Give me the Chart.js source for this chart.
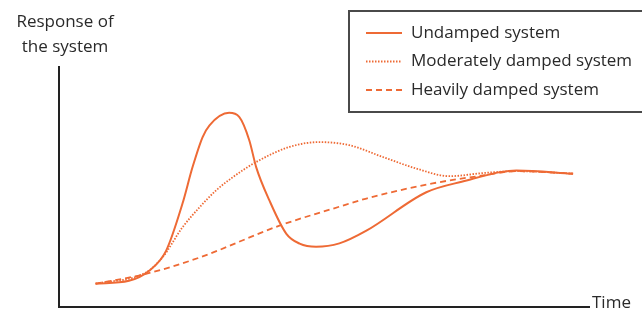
<!DOCTYPE html>
<html>
<head>
<meta charset="utf-8">
<script src="https://cdn.jsdelivr.net/npm/chart.js@4/dist/chart.umd.min.js"></script>
<style>
  html, body { margin: 0; padding: 0; background: #fff; }
  #wrap { width: 642px; height: 312px; position: relative; }
</style>
</head>
<body>
<div id="wrap"><canvas id="chart"></canvas></div>
<script>
// curves: time (0-100) vs response (0-100)
const undampedTime = [6.9, 13.2, 17.0, 20.2, 23.3, 25.2, 27.1, 28.4, 32.1, 34.0, 35.9, 37.2, 39.7, 42.9, 45.4, 48.5, 52.9, 58.0, 69.3, 76.9, 83.2, 86.3, 97.0];
const undampedResp = [9.7, 10.9, 15.1, 23.4, 43.1, 58.3, 70.8, 75.7, 80.9, 79.2, 69.5, 58.3, 44.4, 30.5, 26.4, 25.1, 26.5, 31.8, 47.8, 52.7, 56.2, 56.9, 55.5];

const moderateTime = [6.9, 16.4, 19.5, 23.3, 26.5, 29.6, 32.8, 37.2, 43.5, 49.1, 54.8, 61.1, 67.4, 73.7, 80.0, 86.3, 97.0];
const moderateResp = [9.7, 14.4, 20.6, 33.2, 41.5, 48.5, 54.1, 60.4, 66.7, 68.7, 67.4, 62.5, 57.7, 54.5, 55.8, 56.6, 55.6];

const heavyTime = [6.9, 16.4, 26.5, 41.6, 52.9, 58.0, 70.5, 80.0, 86.3, 97.0];
const heavyResp = [9.7, 13.8, 20.6, 33.9, 41.8, 45.2, 51.5, 54.8, 56.6, 55.6];

const seriesLabels = ['Undamped system', 'Moderately damped system', 'Heavily damped system'];
const yAxisLabel = ['Response of', 'the system'];
const xAxisLabel = 'Time';

const ORANGE = '#ee6a35';
const FONT = '"Open Sans", sans-serif';
const dashes = [[], [1.5, 1.5], [6, 4]];

const pts = (xs, ys) => xs.map((x, i) => ({ x, y: ys[i] }));

const mkSet = (label, data, i) => ({
  label,
  data,
  borderColor: ORANGE,
  borderWidth: i === 0 ? 2 : 1.8,
  borderDash: dashes[i],
  pointRadius: 0,
  fill: false,
  cubicInterpolationMode: 'monotone'
});

// axis labels + legend box drawn by hand
const decor = {
  id: 'decor',
  afterDraw(chart) {
    const { ctx, chartArea } = chart;
    ctx.save();
    ctx.fillStyle = '#2a2a2a';
    ctx.font = '17px ' + FONT;
    ctx.textAlign = 'center';
    ctx.textBaseline = 'middle';
    ctx.fillText(yAxisLabel[0], 65, 22);
    ctx.fillText(yAxisLabel[1], 65, 47);
    ctx.textAlign = 'left';
    ctx.fillText(xAxisLabel, chartArea.right + 3, chartArea.bottom - 4);

    // legend
    ctx.strokeStyle = '#4a4a4a';
    ctx.lineWidth = 2;
    ctx.strokeRect(349, 11, 300, 101);
    chart.data.datasets.forEach((ds, i) => {
      const y = 33 + i * 28.5;
      ctx.strokeStyle = ORANGE;
      ctx.lineWidth = ds.borderWidth;
      ctx.setLineDash(ds.borderDash);
      ctx.beginPath();
      ctx.moveTo(366, y);
      ctx.lineTo(402, y);
      ctx.stroke();
      ctx.setLineDash([]);
      ctx.fillStyle = '#2a2a2a';
      ctx.fillText(ds.label, 411, y);
    });
    ctx.restore();
  }
};

new Chart(document.getElementById('chart'), {
  type: 'line',
  data: {
    datasets: [
      mkSet(seriesLabels[0], pts(undampedTime, undampedResp), 0),
      mkSet(seriesLabels[1], pts(moderateTime, moderateResp), 1),
      mkSet(seriesLabels[2], pts(heavyTime, heavyResp), 2)
    ]
  },
  options: {
    responsive: true, maintainAspectRatio: false,
    animation: false,
    layout: { padding: { left: 59, top: 67, right: 53, bottom: 5 } },
    scales: {
      x: {
        type: 'linear', min: 0, max: 100,
        grid: { display: false, drawTicks: false },
        border: { display: true, color: '#222', width: 2 },
        ticks: { display: false }
      },
      y: {
        min: 0, max: 100,
        grid: { display: false, drawTicks: false },
        border: { display: true, color: '#222', width: 2 },
        ticks: { display: false }
      }
    },
    plugins: { legend: { display: false }, tooltip: { enabled: false } }
  },
  plugins: [decor]
});
</script>
</body>
</html>
